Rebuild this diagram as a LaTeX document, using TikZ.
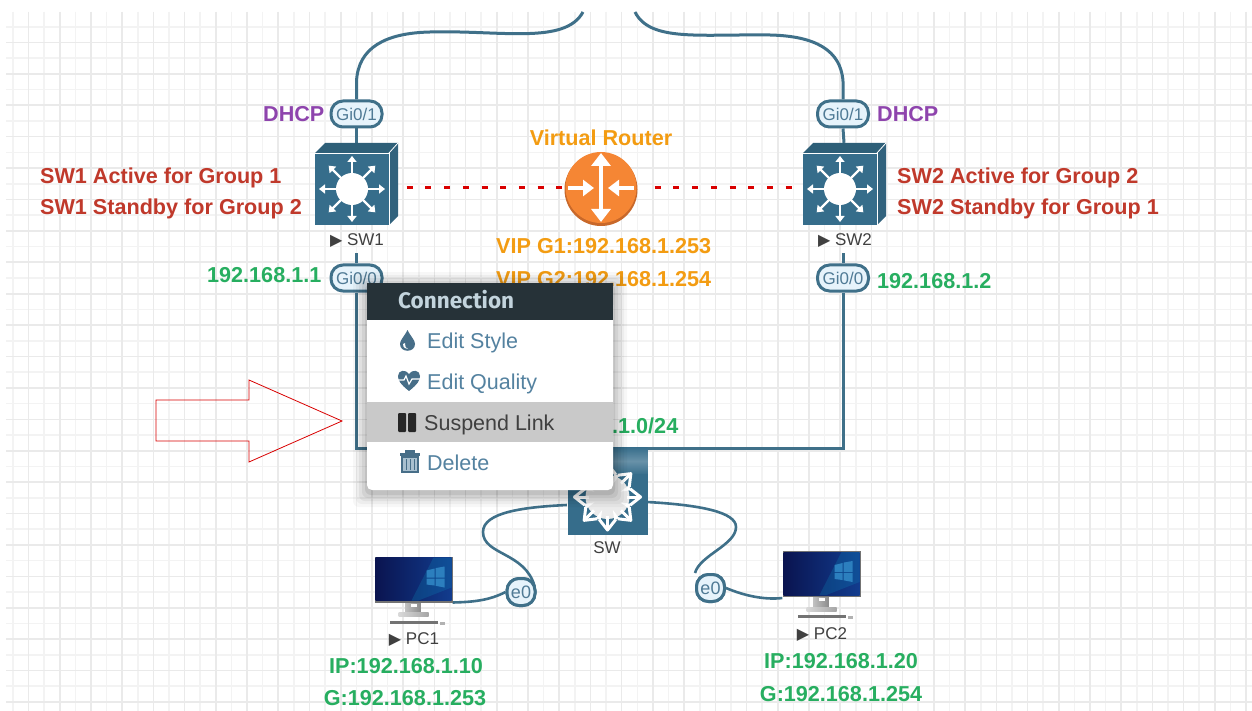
\documentclass[tikz,border=0pt]{standalone}
\usepackage{fontspec}
\setmainfont{Liberation Sans}
\newfontfamily\menuhead{Fira Sans}
\newfontfamily\symfont{DejaVu Sans}
\usetikzlibrary{arrows.meta,calc}
\definecolor{linkc}{HTML}{3F7089}
\definecolor{pillfill}{HTML}{E6F3FB}
\definecolor{devblue}{HTML}{366D8B}
\definecolor{devtop}{HTML}{2E5F78}
\definecolor{pilltext}{HTML}{4F7A95}
\definecolor{redtxt}{HTML}{C0392B}
\definecolor{purp}{HTML}{8E44AD}
\definecolor{orng}{HTML}{F39C12}
\definecolor{grn}{HTML}{27AE60}
\definecolor{menutxt}{HTML}{5482A0}
\definecolor{menuhd}{HTML}{263238}
\definecolor{gridmaj}{HTML}{EAEAEA}
\definecolor{gridmin}{HTML}{F3F3F3}
\definecolor{routerc}{HTML}{F58634}
\definecolor{routerd}{HTML}{C8682A}
\definecolor{scrdark}{HTML}{0A1450}
\definecolor{scrlight}{HTML}{123C8E}
\definecolor{winblue}{HTML}{2C7FBE}
\tikzset{
  x=1pt,y=-1pt,
  linkline/.style={draw=linkc,line width=3pt},
  dotline/.style={draw=red!85!black,line width=3pt,dash pattern=on 6pt off 12.7pt},
  pill/.style={draw=linkc,fill=pillfill,line width=3pt,rounded corners=12pt,minimum width=51pt,minimum height=26pt,inner sep=0pt,text=pilltext,font=\fontsize{17}{20}\selectfont},
  pillsmall/.style={pill,minimum width=28pt,minimum height=27pt},
  lbl/.style={inner sep=0pt,anchor=base west,font=\fontsize{21.6}{26}\selectfont\bfseries},
  lblc/.style={inner sep=0pt,anchor=base,font=\fontsize{21.6}{26}\selectfont\bfseries},
  devlbl/.style={inner sep=0pt,anchor=base,text=black!75,font=\fontsize{17}{20}\selectfont},
  menuitem/.style={inner sep=0pt,anchor=base west,text=menutxt,font=\fontsize{21.5}{26}\selectfont},
  hold/.style={inner sep=0pt,draw=none},
  whitearrow/.style={draw=white,line width=4pt,-{Triangle[length=11pt,width=16pt]}},
  whitearrows/.style={draw=white,line width=4pt,{Triangle[length=13pt,width=19pt]}-{Triangle[length=13pt,width=19pt]}},
  l3switch/.pic={
    \fill[devtop] (-37,-36) -- (-27,-46) -- (46,-46) -- (37,-36) -- cycle;
    \fill[devblue!90!black] (37,-36) -- (46,-46) -- (46,27) -- (37,36) -- cycle;
    \fill[devblue] (-37,-36) rectangle (37,36);
    \draw[white,line width=0.8pt] (37,-36) -- (46,-46);
    \draw[white,line width=0.8pt] (-37,-36) -- (37,-36) -- (37,36);
    \fill[white] (0,0) circle (16);
    \foreach \a in {0,45,...,315}
      \draw[draw=white,line width=2.2pt,-{Triangle[length=6pt,width=9pt]}] (\a:15) -- (\a:33);
  },
  hubicon/.pic={
    \shade[top color=devblue,bottom color=devblue,middle color=devblue!75!white] (-40,-50) rectangle (40,-22);
    \fill[devblue] (-40,-23) rectangle (40,38);
    \fill[black!8] (0,0) circle (22);
    \foreach \a in {0,45,...,315}{
      \draw[draw=white,line width=3pt] (\a:19) -- (\a:31);
      \draw[draw=white,line width=3pt,line join=round] (\a+20:24) -- (\a:33) -- (\a-20:24);
      \draw[draw=white,line width=3pt] (\a+20:24) -- (\a+22.5:20) -- (\a+25:24);
    }
  },
  pcicon/.pic={
    \fill[black!50] (-8,22) rectangle (7,33);
    \shade[left color=black!25,right color=black!45] (-8,22.5) rectangle (7,33);
    \fill[white] (-3,24) rectangle (3,27);
    \shade[left color=black!15,right color=black!35] (-15,33) rectangle (15,37);
    \fill[black!55] (-39,-23) rectangle (39,23);
    \shade[left color=scrdark,right color=scrlight] (-38,-22) rectangle (38,21);
    \fill[scrlight!60!cyan,opacity=0.25] (38,-22) -- (38,8) -- (5,21) -- (-2,21) -- (20,-22) -- cycle;
    \fill[winblue] (13,-9) -- (21,-11) -- (21,-2) -- (13,-2) -- cycle;
    \fill[winblue] (22,-11.4) -- (31,-13) -- (31,-2) -- (22,-2) -- cycle;
    \fill[winblue] (13,-1) -- (21,-1) -- (21,6) -- (13,5) -- cycle;
    \fill[winblue] (22,-1) -- (31,-1) -- (31,8) -- (22,6.3) -- cycle;
    \fill[black!55] (-24,41) rectangle (24,44);
    \fill[black!30] (26,42) rectangle (31,45);
  },
}
\begin{document}
\begin{tikzpicture}
\useasboundingbox (0,0) rectangle (1252,711);
\fill[white] (0,0) rectangle (1252,711);
% grid
\begin{scope}
\clip (6,12) rectangle (1252,711);
\foreach \i in {0,...,79}{
  \pgfmathsetmacro{\xx}{12.9+15.61*\i}
  \pgfmathtruncatemacro{\mm}{mod(\i,2)}
  \ifnum\mm=0 \draw[gridmin,line width=1.6pt] (\xx,12) -- (\xx,711);\fi
}
\foreach \i in {0,...,44}{
  \pgfmathsetmacro{\yy}{26.8+15.7*\i}
  \pgfmathtruncatemacro{\mm}{mod(\i,2)}
  \ifnum\mm=0 \draw[gridmin,line width=1.6pt] (6,\yy) -- (1252,\yy);\fi
}
\foreach \i in {0,...,79}{
  \pgfmathsetmacro{\xx}{12.9+15.61*\i}
  \pgfmathtruncatemacro{\mm}{mod(\i,2)}
  \ifnum\mm=1 \draw[gridmaj,line width=1.6pt] (\xx,12) -- (\xx,711);\fi
}
\foreach \i in {0,...,44}{
  \pgfmathsetmacro{\yy}{26.8+15.7*\i}
  \pgfmathtruncatemacro{\mm}{mod(\i,2)}
  \ifnum\mm=1 \draw[gridmaj,line width=1.6pt] (6,\yy) -- (1252,\yy);\fi
}
\end{scope}
% anchors for devices
\node[hold,minimum width=84pt,minimum height=82pt] (sw1) at (356.5,184) {};
\node[hold,minimum width=84pt,minimum height=82pt] (sw2) at (844,184) {};
\node[hold,minimum width=73pt,minimum height=73pt,circle] (vr) at (601,188) {};
\node[hold,minimum width=80pt,minimum height=88pt] (hub) at (607,491) {};
\node[hold,minimum width=78pt,minimum height=46pt] (pc1) at (413.5,579.5) {};
\node[hold,minimum width=78pt,minimum height=46pt] (pc2) at (821.5,574) {};
\node[pill] (a1) at (356.5,114) {Gi0/1};
\node[pill] (a0) at (356.5,278) {Gi0/0};
\node[pill] (b1) at (843,114) {Gi0/1};
\node[pill] (b0) at (843,278) {Gi0/0};
\node[pillsmall] (e1) at (521,592) {};
\node[pillsmall] (e2) at (710.5,588) {};
\coordinate (upa) at (583,12);
\coordinate (upb) at (635,12);
\coordinate (stuba) at (356.5,253);
\coordinate (stubb) at (843,253);
\coordinate (bus) at (600,448);
% connectors
\draw[linkline] (a1.north) -- ++(0,-18) .. controls (358,48) and (385,33) .. (430,32) .. controls (500,30) and (565,45) .. (upa);
\draw[linkline] (b1.north) -- ++(0,-18) .. controls (841,50) and (815,36) .. (770,35) .. controls (700,34) and (650,42) .. (upb);
\draw[linkline] (a1.south) -- (sw1.north);
\draw[linkline] (b1.south) -- (sw2.north);
\draw[linkline] (a0.north) -- (stuba);
\draw[linkline] (b0.north) -- (stubb);
\draw[linkline] (a0.south) |- (bus) -| (b0.south);
\draw[linkline,line width=2.6pt] ([yshift=-14pt]hub.west) .. controls (525,507) and (483,512) .. (483,532) .. controls (483,555) and (525,552) .. ([xshift=-2pt,yshift=6pt]e1.east);
\draw[linkline,line width=2.6pt] ([yshift=-11pt]hub.east) .. controls (700,505) and (736,512) .. (736,527) .. controls (736,545) and (700,555) .. (e2.north west);
\draw[linkline,line width=2.6pt] (e1.west) .. controls (490,600) and (475,602) .. (pc1.east |- 0,602.5);
\draw[linkline,line width=2.6pt] (e2.east) .. controls (745,596) and (765,600) .. (pc2.west |- 0,598);
\draw[dotline] ([xshift=8pt]sw1.east |- vr.west) -- (vr.west);
\draw[dotline] ([xshift=17pt]vr.east) -- ([xshift=-8pt]sw2.west |- vr.east);
% icons
\pic at (352,189) {l3switch};
\pic at (840,189) {l3switch};
\pic at (607.5,497) {hubicon};
\pic at (pc1.center) {pcicon};
\pic at (pc2.center) {pcicon};
\fill[routerd] (601,189.5) circle (36.5);
\fill[routerc] (601,187.5) circle (35.5);
\draw[whitearrows] (601,153) -- (601,222);
\draw[whitearrow] (568,188) -- (594,188);
\draw[whitearrow] (634,188) -- (608,188);
% pill labels re-placed above links
\node[pillsmall] at (e1) {\fontsize{18}{20}\selectfont e0};
\node[pillsmall] at (e2) {\fontsize{18}{20}\selectfont e0};
% texts
\node[lbl,text=purp] (t1) at (263,122) {DHCP};
\node[lbl,text=purp] (t2) at (877,122) {DHCP};
\node[lblc,text=orng] (t3) at (601,146) {Virtual Router};
\node[lbl,text=redtxt] (t4) at (40,184) {SW1 Active for Group 1};
\node[lbl,text=redtxt] (t5) at (40,215) {SW1 Standby for Group 2};
\node[lbl,text=redtxt] (t6) at (897,184) {SW2 Active for Group 2};
\node[lbl,text=redtxt] (t7) at (897,215) {SW2 Standby for Group 1};
\node[lbl,text=orng] (t8) at (496,254) {VIP G1:192.168.1.253};
\node[lbl,text=orng] (t9) at (496,287) {VIP G2:192.168.1.254};
\node[lbl,text=grn] (t10) at (207,282) {192.168.1.1};
\node[lbl,text=grn] (t11) at (877,288) {192.168.1.2};
\node[lbl,text=grn] (t12) at (612,433) {.1.0/24};
\node[lblc,text=grn] (t13) at (406,673) {IP:192.168.1.10};
\node[lblc,text=grn] (t14) at (405,705) {G:192.168.1.253};
\node[lblc,text=grn] (t15) at (841,668) {IP:192.168.1.20};
\node[lblc,text=grn] (t16) at (841,701) {G:192.168.1.254};
\node[devlbl] (l1) at (357,246) {{\symfont\fontsize{16}{16}\selectfont ▶} SW1};
\node[devlbl] (l2) at (845,246) {{\symfont\fontsize{16}{16}\selectfont ▶} SW2};
\node[devlbl] (l3) at (607,553) {SW};
\node[devlbl] (l4) at (414,644) {{\symfont\fontsize{16}{16}\selectfont ▶} PC1};
\node[devlbl] (l5) at (822,639) {{\symfont\fontsize{16}{16}\selectfont ▶} PC2};
% menu
\foreach \g/\o in {14/0.03,11/0.04,8/0.05,5/0.06,2/0.08}
  \fill[black,opacity=\o,rounded corners=6pt] (367-\g,283-\g+3) rectangle (613+\g,490+\g+3);
\fill[white,rounded corners=5pt] (367,300) rectangle (613,490);
\fill[menuhd] (367,283) rectangle (613,320);
\fill[black!21] (367,402) rectangle (613,442);
\definecolor{mhtxt}{HTML}{C3D4DD}
\node[inner sep=0pt,anchor=base west,text=mhtxt,font=\menuhead\fontsize{22.5}{26}\selectfont\bfseries] (m0) at (398,308) {Connection};
\node[menuitem] (m1) at (427,348) {Edit Style};
\node[menuitem] (m2) at (427,389) {Edit Quality};
\node[menuitem,text=black!75] (m3) at (424,430) {Suspend Link};
\node[menuitem] (m4) at (427,470) {Delete};
% droplet
\fill[menutxt!85!black] (407.5,330) .. controls (404,337) and (400,340) .. (400,344) .. controls (400,353) and (415,353) .. (415,344) .. controls (415,340) and (411,337) .. (407.5,330) -- cycle;
\fill[white] (403,344) .. controls (403,348) and (406,349) .. (408,349) .. controls (405,347) and (405,346) .. (405,343) -- cycle;
% heart
\fill[menutxt!85!black] (409,391) .. controls (400,384) and (398,380) .. (398,376) .. controls (398,370) and (406,369) .. (409,374) .. controls (412,369) and (420,370) .. (420,376) .. controls (420,380) and (418,384) .. (409,391) -- cycle;
\draw[white,line width=1.2pt] (398,380) -- (404,380) -- (406,376) -- (409,384) -- (412,379) -- (420,379);
% pause
\fill[black!85,rounded corners=1pt] (398,413) rectangle (406,432);
\fill[black!85,rounded corners=1pt] (408,413) rectangle (416,432);
% trash
\fill[menutxt!85!black] (400,453) rectangle (420,456);
\fill[menutxt!85!black] (405,450) rectangle (415,453);
\filldraw[fill=menutxt!50!white,draw=menutxt!85!black,line width=1.5pt] (402,457) rectangle (418,472);
\foreach \v in {406,410,414}
  \draw[menutxt!85!black,line width=1pt] (\v,459) -- (\v,470);
% red outline arrow
\draw[red!85!black,line width=0.8pt] (156,400) -- (249,400) -- (249,380) -- (342,421) -- (249,462) -- (249,441) -- (156,441) -- cycle;
\end{tikzpicture}
\end{document}
